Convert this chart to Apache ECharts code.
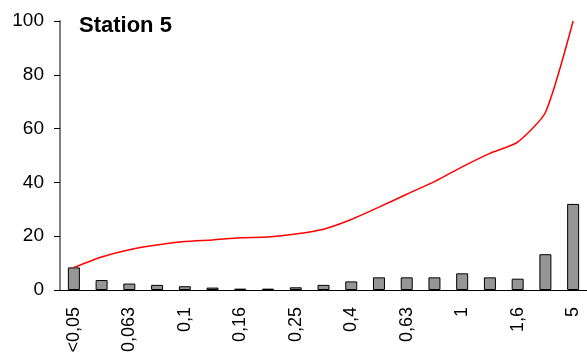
<!DOCTYPE html>
<html>
<head>
<meta charset="utf-8">
<script src="https://cdn.jsdelivr.net/npm/echarts@6/dist/echarts.min.js"></script>
<style>
  html, body { margin: 0; padding: 0; background: #fff; }
  #chart { width: 587px; height: 356px; }
</style>
</head>
<body>
<div id="chart"></div>
<script>
// Grain-size classes (mm)
const classes = ['<0,05', '0,05', '0,063', '0,08', '0,1', '0,125', '0,16', '0,2', '0,25', '0,315',
                 '0,4', '0,5', '0,63', '0,8', '1', '1,25', '1,6', '2', '5'];
// Share of each class (%)
const shares = [8.4, 3.7, 2.4, 1.9, 1.4, 0.9, 0.5, 0.5, 1.0, 1.9,
                3.2, 4.7, 4.7, 4.7, 6.2, 4.7, 4.2, 13.3, 32.0];
// Cumulative curve (%)
const cumulative = [8.4, 12.3, 15.0, 16.7, 18.0, 18.6, 19.4, 19.7, 20.8, 22.6,
                    26.2, 30.8, 35.6, 40.3, 45.8, 50.8, 55.0, 66.0, 100];
const yTicks = { min: 0, max: 100, step: 20 };

const chart = echarts.init(document.getElementById('chart'));
chart.setOption({
  animation: false,
  title: {
    text: 'Station 5',
    left: 79, top: 15, padding: 0,
    textStyle: { fontFamily: 'Arial, Liberation Sans', fontSize: 22, fontWeight: 'bold', color: '#000' }
  },
  grid: { left: 60, right: 0, top: 21, bottom: 66, containLabel: false },
  xAxis: {
    type: 'category',
    data: classes,
    boundaryGap: true,
    axisLine: { lineStyle: { color: '#000', width: 1 } },
    axisTick: { interval: 0, length: 6, lineStyle: { color: '#555' } },
    axisLabel: {
      interval: 1, rotate: 90, margin: 17,
      fontFamily: 'Arial, Liberation Sans', fontSize: 18, color: '#000'
    },
    splitLine: { show: false }
  },
  yAxis: {
    type: 'value',
    min: yTicks.min, max: yTicks.max, interval: yTicks.step,
    axisLine: { show: true, lineStyle: { color: '#808080', width: 2 } },
    axisTick: { show: true, length: 6, lineStyle: { color: '#000' } },
    axisLabel: { margin: 16, fontFamily: 'Arial, Liberation Sans', fontSize: 19, color: '#000' },
    splitLine: { show: false }
  },
  series: [
    {
      type: 'bar',
      data: shares,
      barWidth: 12,
      itemStyle: { color: '#969696', borderColor: '#000', borderWidth: 1 }
    },
    {
      type: 'line',
      data: cumulative,
      smooth: 0.2,
      symbol: 'none',
      lineStyle: { color: '#ff0000', width: 1.5 }
    }
  ]
});
</script>
</body>
</html>
